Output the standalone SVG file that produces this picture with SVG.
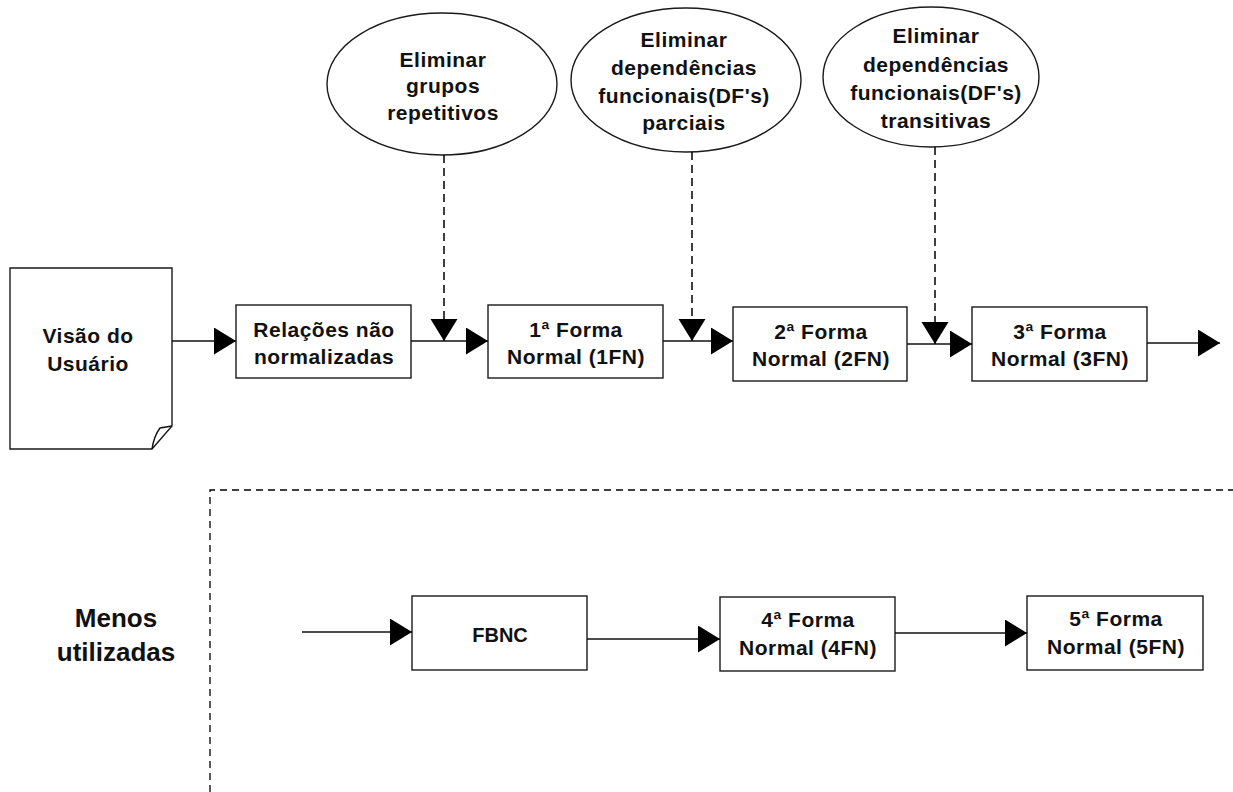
<svg xmlns="http://www.w3.org/2000/svg" width="1233" height="792" viewBox="0 0 1233 792">
  <defs>
    <style>
      .shape { fill: #ffffff; stroke: #1a1a1a; stroke-width: 1.4; }
      .lbl { font-family: "Liberation Sans", Arial, sans-serif; font-weight: bold; font-size: 21px; letter-spacing: 0.5px; fill: #111111; text-anchor: middle; }
      .big { font-family: "Liberation Sans", Arial, sans-serif; font-weight: bold; font-size: 26px; fill: #111111; text-anchor: middle; }
      .wire { fill: none; stroke: #111111; stroke-width: 1.4; }
      .dash { fill: none; stroke: #000000; stroke-width: 1.5; stroke-dasharray: 8 5; }
      .frame { fill: none; stroke: #000000; stroke-width: 1.3; stroke-dasharray: 7 5; }
    </style>
    <marker id="head" markerUnits="userSpaceOnUse" markerWidth="23" markerHeight="28" refX="22" refY="13.5" orient="auto">
      <path d="M0,0 L22,13.5 L0,27 Z" fill="#000000"/>
    </marker>
  </defs>

  <!-- process nodes -->
  <g id="visao-usuario">
    <path class="shape" d="M10,268 H172 V426 L152,449 H10 Z"/>
    <path class="wire" d="M152,449 Q154,436 160,428 L172,426"/>
    <text class="lbl" x="88" y="343">Visão do</text>
    <text class="lbl" x="88" y="371">Usuário</text>
  </g>

  <g id="relacoes">
    <rect class="shape" x="236" y="305" width="175" height="73"/>
    <text class="lbl" x="324" y="337">Relações não</text>
    <text class="lbl" x="324" y="364">normalizadas</text>
  </g>

  <g id="fn1">
    <rect class="shape" x="488" y="305" width="175" height="73"/>
    <text class="lbl" x="576" y="337">1ª Forma</text>
    <text class="lbl" x="576" y="364">Normal (1FN)</text>
  </g>

  <g id="fn2">
    <rect class="shape" x="733" y="307" width="174" height="74"/>
    <text class="lbl" x="821" y="339">2ª Forma</text>
    <text class="lbl" x="821" y="366">Normal (2FN)</text>
  </g>

  <g id="fn3">
    <rect class="shape" x="972" y="307" width="175" height="74"/>
    <text class="lbl" x="1060" y="339">3ª Forma</text>
    <text class="lbl" x="1060" y="366">Normal (3FN)</text>
  </g>

  <!-- rule ellipses -->
  <g id="regra-grupos">
    <ellipse class="shape" cx="442" cy="84" rx="115" ry="71"/>
    <text class="lbl" x="443" y="67">Eliminar</text>
    <text class="lbl" x="443" y="93">grupos</text>
    <text class="lbl" x="443" y="120">repetitivos</text>
  </g>

  <g id="regra-parciais">
    <ellipse class="shape" cx="686" cy="80" rx="115" ry="72"/>
    <text class="lbl" x="684" y="47">Eliminar</text>
    <text class="lbl" x="684" y="75">dependências</text>
    <text class="lbl" x="684" y="103">funcionais(DF's)</text>
    <text class="lbl" x="684" y="130">parciais</text>
  </g>

  <g id="regra-transitivas">
    <ellipse class="shape" cx="931" cy="77" rx="108" ry="70"/>
    <text class="lbl" x="936" y="43">Eliminar</text>
    <text class="lbl" x="936" y="72">dependências</text>
    <text class="lbl" x="936" y="100">funcionais(DF's)</text>
    <text class="lbl" x="936" y="128">transitivas</text>
  </g>

  <!-- less used forms -->
  <g id="menos-utilizadas">
    <text class="big" x="116" y="627">Menos</text>
    <text class="big" x="116" y="661">utilizadas</text>
  </g>

  <g id="fbnc">
    <rect class="shape" x="412" y="596" width="175" height="74"/>
    <text class="lbl" x="500" y="642" style="font-size:20px;letter-spacing:0">FBNC</text>
  </g>

  <g id="fn4">
    <rect class="shape" x="720" y="597" width="175" height="74"/>
    <text class="lbl" x="808" y="627">4ª Forma</text>
    <text class="lbl" x="808" y="655">Normal (4FN)</text>
  </g>

  <g id="fn5">
    <rect class="shape" x="1027" y="596" width="176" height="74"/>
    <text class="lbl" x="1116" y="626">5ª Forma</text>
    <text class="lbl" x="1116" y="654">Normal (5FN)</text>
  </g>

  <!-- connectors -->
  <g id="connectors">
    <path class="wire" d="M172,341 H236" marker-end="url(#head)"/>
    <path class="wire" d="M411,341 H488" marker-end="url(#head)"/>
    <path class="wire" d="M663,341 H733" marker-end="url(#head)"/>
    <path class="wire" d="M907,344 H972" marker-end="url(#head)"/>
    <path class="wire" d="M1147,343 H1220" marker-end="url(#head)"/>

    <path class="dash" d="M444,155 V341" marker-end="url(#head)"/>
    <path class="dash" d="M692,152 V341" marker-end="url(#head)"/>
    <path class="dash" d="M935,147 V344" marker-end="url(#head)"/>

    <path class="wire" d="M302,632 H412" marker-end="url(#head)"/>
    <path class="wire" d="M587,639 H720" marker-end="url(#head)"/>
    <path class="wire" d="M895,633 H1027" marker-end="url(#head)"/>

    <path class="frame" d="M210,792 V490 H1233"/>
  </g>
</svg>
